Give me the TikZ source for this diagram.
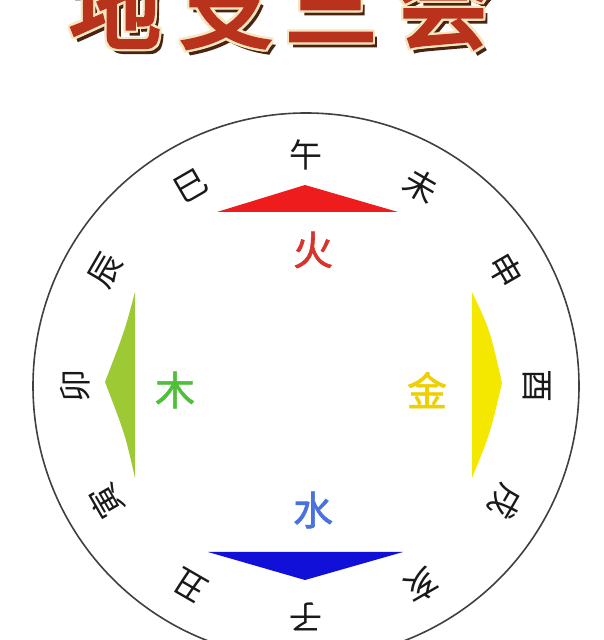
\documentclass[tikz,border=0pt]{standalone}
\usepackage{fontspec}
\newfontfamily\cjk{Noto Sans CJK SC}
\newfontfamily\cjkm[FakeBold=1.5]{Noto Sans CJK SC}
\newfontfamily\cjkb[FakeBold=4]{Noto Sans CJK SC}
\definecolor{titlered}{HTML}{B8321C}
\definecolor{titleshadow}{HTML}{4A2410}
\definecolor{titlecream}{HTML}{F6E6C0}
\definecolor{firered}{HTML}{EE1C1C}
\definecolor{waterblue}{HTML}{1010D8}
\definecolor{woodgreen}{HTML}{9DC934}
\definecolor{metalyellow}{HTML}{F5E800}
\definecolor{firetext}{HTML}{D9342B}
\definecolor{watertext}{HTML}{4A72DC}
\definecolor{woodtext}{HTML}{4FBF3A}
\definecolor{metaltext}{HTML}{EECF00}
\begin{document}
\begin{tikzpicture}[x=1pt,y=1pt,
  branch/.style={font=\cjk\fontsize{33}{33}\selectfont, text=black!90, inner sep=0pt},
  element/.style={font=\cjkm\fontsize{40}{40}\selectfont, inner sep=0pt},
  titlech/.style={font=\cjkb\fontsize{92}{92}\selectfont, inner sep=0pt}]
\useasboundingbox[fill=white] (0,0) rectangle (603,640);
% title
\foreach \ch/\xx [count=\i] in {地/115,支/226,三/331,会/443}{
  \node[titlech, text=titleshadow] at (\xx+4,629) {\ch};
  \foreach \dx/\dy in {2/0,-2/0,0/2,0/-2,2/2,-2/-2,2/-2,-2/2}
    \node[titlech, text=titlecream] at (\xx+\dx,634+\dy) {\ch};
  \node[titlech, text=titlered] (t\i) at (\xx,634) {\ch};
}
% circle
\node[draw=black!75, line width=1.6pt, circle, minimum size=546pt, inner sep=0pt] (ring) at (306,254) {};
% branches
\begin{scope}[shift={(306,254)}]
\foreach \ch/\a [count=\i] in {午/90,未/60,申/30,酉/0,戌/-30,亥/-60,子/-90,丑/-120,寅/-150,卯/180,辰/150,巳/120}{
  \node[branch, rotate=\a-90] (b\i) at (\a:231) {\ch};
}
\end{scope}
% triangles
\fill[firered] (217,428) -- (305,455) -- (398,428) -- cycle;
\fill[waterblue] (208,88) -- (305,60) -- (403,88) -- cycle;
\fill[woodgreen] (135,348) .. controls (125,310) .. (105,258) .. controls (125,206) .. (135,162) -- cycle;
\fill[metalyellow] (472,348) .. controls (490,310) .. (502,257) .. controls (490,206) .. (472,162) -- cycle;
% element labels
\node[element, text=firetext] (fire) at (313,390) {火};
\node[element, text=watertext] (water) at (313,130) {水};
\node[element, text=woodtext] (wood) at (175,250) {木};
\node[element, text=metaltext] (metal) at (427,250) {金};
\end{tikzpicture}
\end{document}
